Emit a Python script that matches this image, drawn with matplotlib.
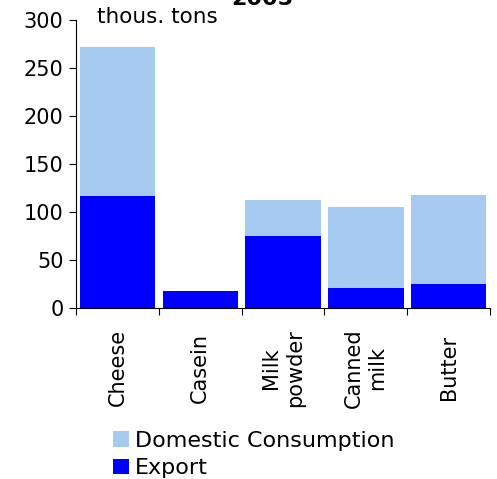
import numpy as np
import matplotlib.pyplot as plt

categories = ['Cheese', 'Casein', 'Milk\npowder', 'Canned\nmilk', 'Butter']
export = [117, 18, 75, 21, 25]
domestic = [155, 0, 38, 84, 93]

fig = plt.figure(figsize=(4.97, 4.79), dpi=100)
ax = fig.add_axes([0.153, 0.357, 0.833, 0.601])

x = np.arange(len(categories))
ax.bar(x, export, width=0.91, color='#0000FF', label='Export')
ax.bar(x, domestic, width=0.91, bottom=export, color='#A6CAF0', label='Domestic Consumption')

ax.set_xlim(-0.5, len(categories) - 0.5)
ax.set_ylim(0, 300)
ax.set_yticks(range(0, 301, 50))
ax.tick_params(axis='y', labelsize=15, direction='out', length=5, width=0.8, pad=4)

# category labels between boundary ticks, centred vertically in the label band
ax.set_xticks(x)
ax.set_xticklabels(categories, rotation=90, fontsize=15, ha='center', va='center', multialignment='center')
ax.tick_params(axis='x', which='major', length=0, pad=43)
ax.set_xticks(np.arange(-0.5, len(categories), 1), minor=True)
ax.tick_params(axis='x', which='minor', length=5, width=0.8, direction='out')

ax.spines['top'].set_visible(False)
ax.spines['right'].set_visible(False)

ax.text(0.05, 1.01, 'thous. tons', transform=ax.transAxes, fontsize=15.5, va='center', ha='left')
fig.text(262 / 497, 1 - 5 / 479, '2005', ha='center', va='baseline', fontsize=16, fontweight='bold')

handles, labels = ax.get_legend_handles_labels()
fig.legend(handles[::-1], labels[::-1], loc='lower left', bbox_to_anchor=(0.205, -0.022), frameon=False,
           fontsize=16, handlelength=0.7, handleheight=0.7, handletextpad=0.3, labelspacing=0.35,
           borderaxespad=0.1)

fig.savefig('out.png', dpi=100)
